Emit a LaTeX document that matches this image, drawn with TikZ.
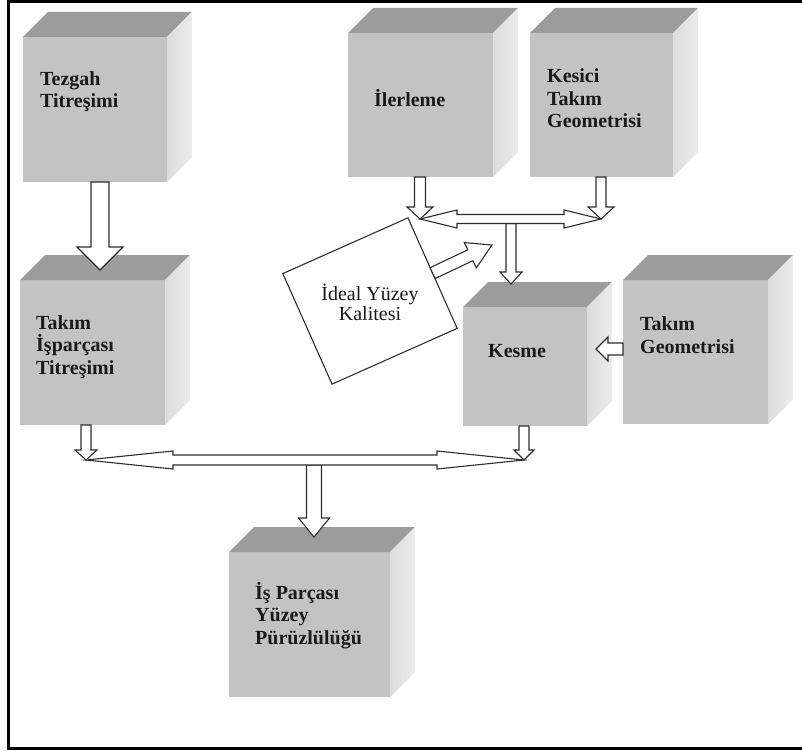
\documentclass[tikz,border=0pt]{standalone}
\usepackage{fontspec}
\setmainfont{Liberation Serif}
\usetikzlibrary{calc}
\definecolor{frontc}{HTML}{C3C3C3}
\definecolor{topc}{HTML}{9C9C9C}
\definecolor{sidec}{HTML}{DCDCDC}
\definecolor{linec}{HTML}{2E2E2E}
\definecolor{txtc}{HTML}{1A1A1A}
\tikzset{
  cubefront/.style={fill=frontc, inner sep=0pt, outer sep=0pt, anchor=north west},
  blk/.style={draw=linec, fill=white, line width=1.1pt, line join=miter},
  lbl/.style={font=\fontsize{20}{22.5}\selectfont\bfseries, align=left, anchor=base west, inner sep=0pt, text=txtc},
  reglbl/.style={font=\fontsize{20}{20}\selectfont, align=center, anchor=base, inner sep=0pt, text=txtc},
  idealbox/.style={draw=linec, fill=white, line width=1.1pt, rotate=24, minimum width=137pt, minimum height=121pt, inner sep=0pt, outer sep=0pt},
  frame/.style={line width=2.6pt, draw=black}
}
% cube: name, x1, y1, x2, y2 (front face)
\newcommand\cube[5]{%
  \node[cubefront, minimum width={#4-#2}, minimum height={#5-#3}] (#1) at (#2,#3) {};
  \fill[topc] (#1.north west) -- ++(25,-25) -- ($(#1.north east)+(25,-25)$) -- (#1.north east) -- cycle;
  \shade[left color=sidec, right color=sidec!55!white] (#1.north east) -- ++(25,-25) -- ($(#1.south east)+(25,-25)$) -- (#1.south east) -- cycle;
}
% block arrow: start, tip, shaft half width, head half width, head length
\newcommand\blockarrow[5]{%
  \path (#1) coordinate (baS) (#2) coordinate (baT);
  \path ($(baT)!#5!(baS)$) coordinate (baH);
  \draw[blk] ($(baS)!#3!90:(baT)$) -- ($(baH)!#3!90:(baT)$) -- ($(baH)!#4!90:(baT)$) -- (baT)
    -- ($(baH)!#4!-90:(baT)$) -- ($(baH)!#3!-90:(baT)$) -- ($(baS)!#3!-90:(baT)$) -- cycle;
}
% double block arrow: tip A, tip B, shaft half width, head half width, head length
\newcommand\dblarrow[5]{%
  \path (#1) coordinate (daA) (#2) coordinate (daB);
  \path ($(daA)!#5!(daB)$) coordinate (daHA) ($(daB)!#5!(daA)$) coordinate (daHB);
  \draw[blk] (daA) -- ($(daHA)!#4!90:(daB)$) -- ($(daHA)!#3!90:(daB)$) -- ($(daHB)!#3!-90:(daA)$)
    -- ($(daHB)!#4!-90:(daA)$) -- (daB) -- ($(daHB)!#4!90:(daA)$) -- ($(daHB)!#3!90:(daA)$)
    -- ($(daHA)!#3!-90:(daB)$) -- ($(daHA)!#4!-90:(daB)$) -- cycle;
}
\begin{document}
\begin{tikzpicture}[x=1pt,y=-1pt]
\useasboundingbox (0,0) rectangle (802,751);
\fill[white] (0,0) rectangle (802,751);
\draw[frame] (802,1.3) -- (8.2,1.3) -- (8.2,748.3) -- (802,748.3);

% cubes
\cube{tezgah}{23}{37}{167}{182}
\cube{ilerleme}{348}{33}{493}{177}
\cube{kesici}{530}{33}{673}{177}
\cube{takimis}{20}{280}{165}{425}
\cube{kesme}{463}{307}{587}{426}
\cube{takimgeo}{623}{280}{768}{424}
\cube{isparca}{229}{552}{390}{697}

% labels (base = baseline of last line)
\node[lbl] (tezgahtxt) at (40,108) {Tezgah\\Titreşimi};
\node[lbl] (ilerlemetxt) at (374,107) {İlerleme};
\node[lbl] (kesicitxt) at (547,128) {Kesici\\Takım\\Geometrisi};
\node[lbl] (takimistxt) at (36,374) {Takım\\İşparçası\\Titreşimi};
\node[lbl] (kesmetxt) at (488,357) {Kesme};
\node[lbl] (takimgeotxt) at (640,353) {Takım\\Geometrisi};
\node[lbl] (isparcatxt) at (255,644) {İş Parçası\\Yüzey\\Pürüzlülüğü};

% ideal box
\node[idealbox] (ideal) at (370,301) {};
\node[reglbl] (idealtxt) at (370,320) {İdeal Yüzey\\Kalitesi};

% junction points
\coordinate (jtopL) at (420,219);
\coordinate (jtopR) at (601,219);
\coordinate (jtopM) at (511,223.5);
\coordinate (jideal) at (492,245);
\coordinate (jbotL) at (86,460);
\coordinate (jbotR) at (524,460);
\coordinate (jbotM) at (314,465);

% arrows
\blockarrow{100,182}{100,270}{9pt}{23pt}{23pt}
\blockarrow{420,177}{jtopL}{5.5pt}{13pt}{12pt}
\blockarrow{601,177}{jtopR}{5pt}{13pt}{12pt}
\blockarrow{jtopM}{511,284}{5pt}{11pt}{12pt}
\dblarrow{jtopL}{jtopR}{4.5pt}{9pt}{37pt}
\blockarrow{ideal.east}{jideal}{6pt}{14pt}{24pt}
\blockarrow{623,349}{596,349}{6pt}{12pt}{12pt}
\blockarrow{86,425}{jbotL}{5pt}{11pt}{10pt}
\blockarrow{524,426}{jbotR}{5pt}{10pt}{10pt}
\blockarrow{jbotM}{314,537}{7.5pt}{15.5pt}{19pt}
\dblarrow{jbotL}{jbotR}{5pt}{9pt}{87pt}
\end{tikzpicture}
\end{document}
